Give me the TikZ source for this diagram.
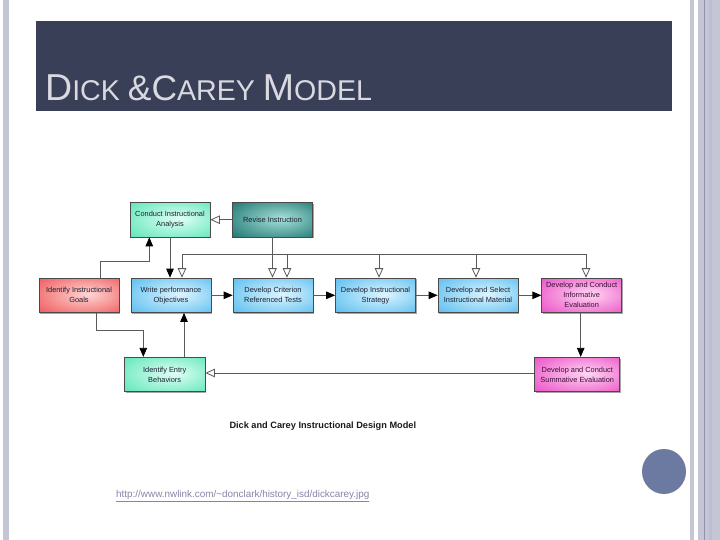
\documentclass[tikz,border=0pt]{standalone}
\usepackage{fontspec}
\setmainfont{Liberation Sans}
\usetikzlibrary{arrows.meta,shadows}
\definecolor{titlebg}{HTML}{3A3F58}
\definecolor{titlefg}{HTML}{D9D9E0}
\definecolor{barc}{HTML}{C4C6D6}
\definecolor{barline}{HTML}{8F93AB}
\definecolor{circc}{HTML}{6C79A0}
\definecolor{urlc}{HTML}{8C82A8}
\definecolor{lnc}{HTML}{5A5A5A}
\definecolor{bord}{HTML}{4A4A4A}
\definecolor{tx}{HTML}{1E2030}
\definecolor{mintin}{HTML}{E0FFF6}
\definecolor{mintout}{HTML}{55E4B4}
\definecolor{tealin}{HTML}{A8E0DA}
\definecolor{tealout}{HTML}{15706A}
\definecolor{redin}{HTML}{FFD6D6}
\definecolor{redout}{HTML}{EE5252}
\definecolor{bluein}{HTML}{DDF5FF}
\definecolor{blueout}{HTML}{52BAEE}
\definecolor{magin}{HTML}{FFD6F2}
\definecolor{magout}{HTML}{EA48C4}
\definecolor{magtx}{HTML}{3A1035}
\definecolor{captx}{HTML}{1A1A1A}
\definecolor{bar2}{HTML}{BCBECF}
\colorlet{icol}{white}
\colorlet{ocol}{black}
\pgfdeclareradialshading[icol,ocol]{boxrad}{\pgfpoint{6bp}{2bp}}{color(0bp)=(icol);color(10bp)=(icol!75!ocol);color(40bp)=(ocol);color(50bp)=(ocol)}
\tikzset{
  box/.style={draw=bord, line width=0.7pt, minimum width=80pt, minimum height=34.5pt,
    inner sep=1pt, align=center, font=\fontsize{7.4}{10}\selectfont, text=tx,
    drop shadow={shadow xshift=1.3pt, shadow yshift=-1.3pt, fill=black, opacity=0.35},
    shading=boxrad},
  mint/.style={box, /utils/exec={\colorlet{icol}{mintin}\colorlet{ocol}{mintout}}},
  teal/.style={box, /utils/exec={\colorlet{icol}{tealin}\colorlet{ocol}{tealout}}},
  redbox/.style={box, /utils/exec={\colorlet{icol}{redin}\colorlet{ocol}{redout}}},
  bluebox/.style={box, /utils/exec={\colorlet{icol}{bluein}\colorlet{ocol}{blueout}}},
  magbox/.style={box, text=magtx, /utils/exec={\colorlet{icol}{magin}\colorlet{ocol}{magout}}},
  conn/.style={draw=lnc, line width=0.8pt},
  blk/.style={conn, -{Triangle[length=9pt,width=7.5pt,color=black]}},
  opn/.style={conn, -{Triangle[open,length=9.5pt,width=8.5pt,fill=white]}}
}
\begin{document}
\begin{tikzpicture}[x=1pt,y=-1pt]
\useasboundingbox (0,0) rectangle (720,540);
\fill[white] (0,0) rectangle (720,540);
% side bars
\fill[barc] (3,0) rectangle (9,540);
\fill[barc] (690,0) rectangle (694,540);
\fill[barc] (698,0) rectangle (720,540);
\fill[barline] (703.7,0) rectangle (705,540);
\fill[bar2] (709,0) rectangle (712,540);
% title
\fill[titlebg] (36,21) rectangle (672,111);
\node[anchor=base west, inner sep=0, text=titlefg] (title) at (45,101)
  {{\fontsize{37.5}{37.5}\selectfont D}{\fontsize{28.6}{28.6}\selectfont ICK }{\fontsize{35.4}{35.4}\selectfont \&C}{\fontsize{28.6}{28.6}\selectfont AREY }{\fontsize{37.5}{37.5}\selectfont M}{\fontsize{28.6}{28.6}\selectfont ODEL}};
% circle
\fill[circc] (664,471.5) ellipse [x radius=22, y radius=22.5];
% url
\node[anchor=base west, inner sep=0, text=urlc, font=\fontsize{9.9}{11}\selectfont] (url) at (116,497.5)
  {\underline{http://www.nwlink.com/\textasciitilde donclark/history\_isd/dickcarey.jpg}};
% caption
\node[anchor=base, inner sep=0, font=\bfseries\fontsize{9.2}{11}\selectfont, text=captx] (cap) at (322.8,428.5)
  {Dick and Carey Instructional Design Model};
% nodes
\node[mint] (analysis) at (170,219.7) {Conduct Instructional\\Analysis};
\node[teal] (revise) at (272.5,219.7) {Revise Instruction};
\node[redbox] (goals) at (79,295.3) {Identify Instructional\\Goals};
\node[bluebox] (objectives) at (171,295.3) {Write performance\\Objectives};
\node[bluebox] (tests) at (273,295.3) {Develop Criterion\\Referenced Tests};
\node[bluebox] (strategy) at (375.5,295.3) {Develop Instructional\\Strategy};
\node[bluebox] (material) at (478,295.3) {Develop and Select\\Instructional Material};
\node[magbox] (informative) at (581.7,295.3) {Develop and Conduct\\Informative\\Evaluation};
\node[mint, minimum width=80.7pt] (entry) at (164.7,374.5) {Identify Entry\\Behaviors};
\node[magbox, minimum width=85pt] (summative) at (577.3,374.5) {Develop and Conduct\\Summative Evaluation};
% helper coordinates
\coordinate (j1) at (100,261.7);
\coordinate (j2) at (149.3,261.7);
\coordinate (fb1) at (182,254);
\coordinate (fb2) at (287,254);
\coordinate (fb3) at (379,254);
\coordinate (fb4) at (476,254);
\coordinate (fb5) at (586,254);
\coordinate (k1) at (96.7,330);
\coordinate (k2) at (143.3,330);
\coordinate (e1) at (184,0);
\coordinate (s1) at (580.7,0);
\coordinate (h1) at (0,373);
% connectors
\draw[blk] (goals.north -| j1) -- (j1) -- (j2) -- (analysis.south -| j2);
\draw[blk] (analysis.south) -- (objectives.north -| analysis.south);
\draw[opn] (revise.west) -- (analysis.east);
\draw[opn] (revise.south) -- (tests.north -| revise.south);
\draw[conn] (fb1) -- (fb5);
\draw[opn] (fb1) -- (objectives.north -| fb1);
\draw[opn] (fb2) -- (tests.north -| fb2);
\draw[opn] (fb3) -- (strategy.north -| fb3);
\draw[opn] (fb4) -- (material.north -| fb4);
\draw[opn] (fb5) -- (informative.north -| fb5);
\draw[blk] (objectives.east) -- (tests.west);
\draw[blk] (tests.east) -- (strategy.west);
\draw[blk] (strategy.east) -- (material.west);
\draw[blk] (material.east) -- (informative.west);
\draw[blk] (goals.south -| k1) -- (k1) -- (k2) -- (entry.north -| k2);
\draw[blk] (entry.north -| e1) -- (objectives.south -| e1);
\draw[blk] (informative.south -| s1) -- (summative.north -| s1);
\draw[opn] (summative.west |- h1) -- (entry.east |- h1);
\end{tikzpicture}
\end{document}
